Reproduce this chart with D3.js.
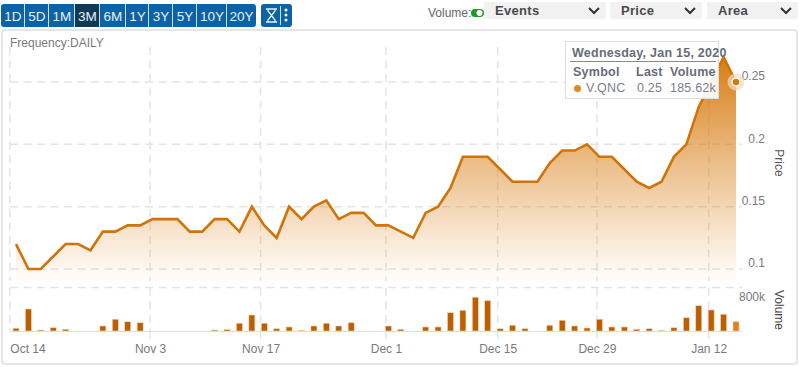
<!DOCTYPE html>
<html lang="en">
<head>
    <meta charset="UTF-8">
    <title>V.QNC Price and Volume</title>
    <script src="https://d3js.org/d3.v7.min.js"></script>
    <style>
        html, body { margin: 0; padding: 0; background: #fff; overflow: hidden; }
        svg { display: block; }
        text { font-family: "Liberation Sans", Arial, sans-serif; }
        .grid line { stroke: #e4e4e4; stroke-width: 1.5px; stroke-dasharray: 8 5.5; }
        .axis path, .axis line { display: none; }
        .axis text { font-size: 12px; fill: #7a7a7a; }
        .tip-head { font-size: 12.5px; font-weight: bold; fill: #666d78; }
        .tip-cell { font-size: 12.5px; fill: #7a818b; }
    </style>
</head>
<body>
    <svg width="800" height="367"></svg>
    <script>
        // Daily closes, Oct 14 2019 to Jan 15 2020
        const prices = [
            0.12, 0.1, 0.1, 0.11, 0.12, 0.12, 0.115, 0.13, 0.13, 0.135,
            0.135, 0.14, 0.14, 0.14, 0.13, 0.13, 0.14, 0.14, 0.13, 0.15,
            0.135, 0.125, 0.15, 0.14, 0.15, 0.155, 0.14, 0.145, 0.145, 0.135,
            0.135, 0.13, 0.125, 0.145, 0.15, 0.165, 0.19, 0.19, 0.19, 0.18,
            0.17, 0.17, 0.17, 0.185, 0.195, 0.195, 0.2, 0.19, 0.19, 0.18,
            0.17, 0.165, 0.17, 0.19, 0.2, 0.23, 0.25, 0.27, 0.25
        ];
        const volumes = [
            55, 440, 20, 65, 35, 0, 0, 100, 235, 185,
            165, 0, 0, 0, 0, 0, 20, 30, 155, 320,
            155, 45, 80, 15, 100, 155, 100, 165, 0, 0,
            100, 35, 0, 80, 80, 365, 415, 675, 605, 45,
            115, 45, 0, 115, 215, 100, 60, 235, 80, 80,
            35, 45, 15, 65, 265, 505, 420, 335, 185.62
        ];
        const dateLabels = ["Oct 14", "Nov 3", "Nov 17", "Dec 1", "Dec 15", "Dec 29", "Jan 12"];
        const datePositions = [-0.5, 10.8, 19.7, 29.8, 38.8, 46.8, 55.8];
        const priceTicks = [0.1, 0.15, 0.2, 0.25];
        const volumeTicks = [800];
        const ranges = ["1D", "5D", "1M", "3M", "6M", "1Y", "3Y", "5Y", "10Y", "20Y"];
        const rangeEdges = [1, 25, 49, 75, 100, 126, 149, 173, 197, 227, 256];
        const selects = [["Events", 484, 606], ["Price", 610, 702], ["Area", 707, 798]];

        const svg = d3.select("svg");

        const x = d3.scaleLinear().domain([0, 58]).range([16, 736]);
        const y = d3.scaleLinear().domain([0.1, 0.25]).range([269, 82]);
        const yVol = d3.scaleLinear().domain([0, 800]).range([331, 291]);

        const gradient = svg.append("defs").append("linearGradient")
            .attr("id", "areaFill")
            .attr("gradientUnits", "userSpaceOnUse")
            .attr("x1", 0).attr("x2", 0)
            .attr("y1", y(0.27)).attr("y2", 283);
        gradient.append("stop").attr("offset", 0).attr("stop-color", "#d67d14").attr("stop-opacity", 1);
        gradient.append("stop").attr("offset", 1).attr("stop-color", "#e08a2c").attr("stop-opacity", 0);

        // Panel frame
        svg.append("rect")
            .attr("x", 2).attr("y", 30)
            .attr("width", 795).attr("height", 334)
            .attr("rx", 3)
            .attr("fill", "#fff").attr("stroke", "#e6e6e6").attr("stroke-width", 2);

        // Range buttons
        const buttons = svg.append("g");
        buttons.append("rect")
            .attr("x", 1).attr("y", 4).attr("width", 255).attr("height", 23).attr("rx", 3)
            .attr("fill", "#0b62a6");
        ranges.forEach((r, i) => {
            const x0 = rangeEdges[i], x1 = rangeEdges[i + 1];
            if (r === "3M") {
                buttons.append("rect")
                    .attr("x", x0).attr("y", 4).attr("width", x1 - x0).attr("height", 23)
                    .attr("fill", "#0f3a57");
            }
            if (i > 0) {
                buttons.append("line")
                    .attr("x1", x0 - 0.5).attr("x2", x0 - 0.5).attr("y1", 4).attr("y2", 27)
                    .attr("stroke", "#cfe0ee").attr("stroke-width", 1);
            }
            buttons.append("text")
                .attr("x", (x0 + x1) / 2).attr("y", 20.5)
                .attr("text-anchor", "middle")
                .attr("font-size", 13.5)
                .attr("fill", "#e8f1f8")
                .text(r);
        });

        // Hourglass and menu button
        const tools = svg.append("g");
        tools.append("rect")
            .attr("x", 261).attr("y", 4).attr("width", 31).attr("height", 23).attr("rx", 3)
            .attr("fill", "#0b62a6");
        tools.append("path")
            .attr("d", "M266,9H277M266,22H277M268,9V11L275,20V22M275,9V11L268,20V22")
            .attr("fill", "none").attr("stroke", "#e8f1f8").attr("stroke-width", 1.3);
        tools.append("line")
            .attr("x1", 280.5).attr("x2", 280.5).attr("y1", 6).attr("y2", 25)
            .attr("stroke", "#cfe0ee");
        [10, 15, 20].forEach(cy => {
            tools.append("circle").attr("cx", 286).attr("cy", cy).attr("r", 1.5).attr("fill", "#fff");
        });

        // Volume toggle and dropdowns
        svg.append("text")
            .attr("x", 428).attr("y", 17)
            .attr("font-size", 12).attr("fill", "#666")
            .text("Volume:");
        svg.append("rect")
            .attr("x", 471).attr("y", 9).attr("width", 13).attr("height", 8).attr("rx", 4)
            .attr("fill", "#1f9a2a");
        svg.append("circle")
            .attr("cx", 479.5).attr("cy", 13).attr("r", 3)
            .attr("fill", "#fff");
        selects.forEach(([label, x0, x1]) => {
            svg.append("rect")
                .attr("x", x0).attr("y", 2).attr("width", x1 - x0).attr("height", 17)
                .attr("fill", "#f2f2f2");
            svg.append("text")
                .attr("x", x0 + 11).attr("y", 15)
                .attr("font-size", 13).attr("font-weight", "bold").attr("fill", "#4a4a4a")
                .attr("letter-spacing", 0.3)
                .text(label);
            svg.append("path")
                .attr("d", `M${x1 - 17},8L${x1 - 12},13L${x1 - 7},8`)
                .attr("fill", "none").attr("stroke", "#333").attr("stroke-width", 2);
        });

        svg.append("text")
            .attr("x", 10).attr("y", 47)
            .attr("font-size", 12).attr("fill", "#7a7a7a")
            .text("Frequency:DAILY");

        // Gridlines
        const grid = svg.append("g").attr("class", "grid");
        grid.selectAll(".v-price")
            .data(datePositions)
            .join("line")
            .attr("x1", d => x(d)).attr("x2", d => x(d))
            .attr("y1", 47).attr("y2", 281);
        grid.selectAll(".v-vol")
            .data(datePositions)
            .join("line")
            .attr("x1", d => x(d)).attr("x2", d => x(d))
            .attr("y1", 288).attr("y2", 331);
        grid.selectAll(".h-price")
            .data(priceTicks)
            .join("line")
            .attr("x1", 10).attr("x2", 742)
            .attr("y1", d => y(d)).attr("y2", d => y(d));
        grid.append("line")
            .attr("x1", 10).attr("x2", 742)
            .attr("y1", 287.5).attr("y2", 287.5);

        // Price area and line
        svg.append("path")
            .datum(prices)
            .attr("fill", "url(#areaFill)")
            .attr("d", d3.area()
                .x((d, i) => x(i))
                .y0(283)
                .y1(d => y(d)));
        svg.append("path")
            .datum(prices)
            .attr("fill", "none")
            .attr("stroke", "#d07408")
            .attr("stroke-width", 2.6)
            .attr("d", d3.line()
                .x((d, i) => x(i))
                .y(d => y(d)));

        // Volume bars
        svg.append("g")
            .selectAll("rect")
            .data(volumes)
            .join("rect")
            .attr("x", (d, i) => x(i) - 3)
            .attr("y", d => yVol(d))
            .attr("width", 6)
            .attr("height", d => yVol(0) - yVol(d))
            .attr("fill", (d, i) => i === volumes.length - 1 ? "#e07f20" : "#bd5e00")
            .attr("stroke", "#f3d2b0")
            .attr("stroke-width", d => d > 0 ? 0.6 : 0);

        // Baseline and date ticks
        svg.append("line")
            .attr("x1", 10).attr("x2", 742)
            .attr("y1", 331.5).attr("y2", 331.5)
            .attr("stroke", "#d6deee").attr("stroke-width", 1);
        svg.append("g")
            .selectAll("line")
            .data(datePositions.slice(1))
            .join("line")
            .attr("x1", d => x(d)).attr("x2", d => x(d))
            .attr("y1", 331).attr("y2", 339)
            .attr("stroke", "#dbe4f2").attr("stroke-width", 1.3);

        // Axes
        const dateAxis = svg.append("g")
            .attr("class", "axis")
            .attr("transform", "translate(0,331)")
            .call(d3.axisBottom(x)
                .tickValues(datePositions)
                .tickFormat((d, i) => dateLabels[i]));
        dateAxis.selectAll("text")
            .attr("y", 13)
            .attr("text-anchor", (d, i) => i === 0 ? "start" : "middle");

        const priceAxis = svg.append("g")
            .attr("class", "axis")
            .attr("transform", "translate(765,0)")
            .call(d3.axisRight(y).tickValues(priceTicks).tickFormat(d3.format("~g")));
        priceAxis.selectAll("text")
            .attr("x", 0).attr("dy", "-0.17em")
            .attr("text-anchor", "end");

        const volumeAxis = svg.append("g")
            .attr("class", "axis")
            .attr("transform", "translate(765,6)")
            .call(d3.axisRight(yVol).tickValues(volumeTicks).tickFormat(d => d + "k"));
        volumeAxis.selectAll("text")
            .attr("x", 0)
            .attr("text-anchor", "end");

        svg.append("text")
            .attr("transform", "translate(775,163) rotate(90)")
            .attr("text-anchor", "middle")
            .attr("font-size", 12).attr("fill", "#555")
            .text("Price");
        svg.append("text")
            .attr("transform", "translate(775,310) rotate(90)")
            .attr("text-anchor", "middle")
            .attr("font-size", 12).attr("fill", "#444")
            .text("Volume");

        // Hover marker on the last point
        const lastX = x(prices.length - 1), lastY = y(prices[prices.length - 1]);
        svg.append("circle")
            .attr("cx", lastX).attr("cy", lastY).attr("r", 8.5)
            .attr("fill", "#f5dcbd").attr("fill-opacity", 0.7);
        svg.append("circle")
            .attr("cx", lastX).attr("cy", lastY).attr("r", 4)
            .attr("fill", "#d97a10").attr("stroke", "#fff").attr("stroke-width", 1.5);

        // Tooltip
        const tip = svg.append("g");
        tip.append("rect")
            .attr("x", 565.5).attr("y", 41.5).attr("width", 153).attr("height", 57)
            .attr("fill", "#fff").attr("fill-opacity", 0.9)
            .attr("stroke", "#dedede");
        tip.append("text").attr("class", "tip-head")
            .attr("x", 572).attr("y", 57)
            .attr("letter-spacing", 0.25)
            .text("Wednesday, Jan 15, 2020");
        tip.append("line")
            .attr("x1", 570).attr("x2", 716).attr("y1", 61.5).attr("y2", 61.5)
            .attr("stroke", "#8a8a8a");
        [["Symbol", 573], ["Last", 636], ["Volume", 670]].forEach(([t, tx]) => {
            tip.append("text").attr("class", "tip-head")
                .attr("x", tx).attr("y", 76)
                .attr("letter-spacing", 0.25)
                .text(t);
        });
        tip.append("circle")
            .attr("cx", 577.5).attr("cy", 88.5).attr("r", 3.5)
            .attr("fill", "#e08a22");
        [["V.QNC", 586], ["0.25", 637], ["185.62k", 670]].forEach(([t, tx]) => {
            tip.append("text").attr("class", "tip-cell")
                .attr("x", tx).attr("y", 92)
                .attr("letter-spacing", 0.2)
                .text(t);
        });
    </script>
</body>
</html>
